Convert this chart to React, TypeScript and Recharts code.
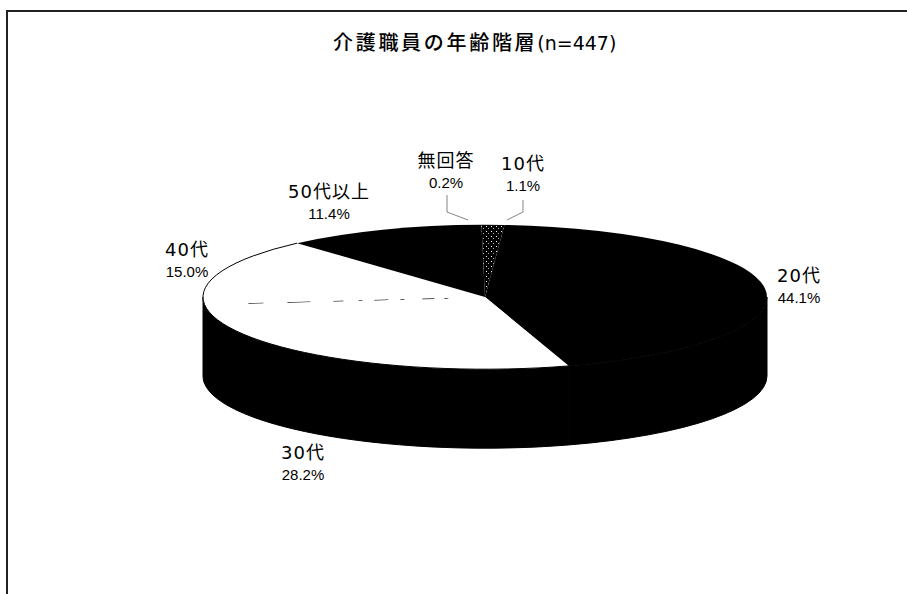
import { Pie, PieChart } from "recharts";

const categories = ["10代", "20代", "30代", "40代", "50代以上", "無回答"];
const shares = [1.1, 44.1, 28.2, 15.0, 11.4, 0.2];
const faceColors = ["url(#speckle)", "#000", "#fff", "#fff", "#000", "url(#speckle)"];

const rows = categories.map((name, i) => ({
  name,
  value: shares[i],
  fill: faceColors[i],
}));

const WIDTH = 907;
const HEIGHT = 594;
const LABEL_FONT = '"DejaVu Sans", "Noto Sans CJK JP", sans-serif';

// Squash factor of the top face and height of the side wall.
const TILT = 0.256;
const DEPTH = 79;

// Where each label block sits (baseline of the name), and the leader for the two thin slices.
const labelSpots: Record<string, { x: number; y: number }> = {
  "10代": { x: 523, y: 170 },
  "20代": { x: 799, y: 282 },
  "30代": { x: 303, y: 459 },
  "40代": { x: 187, y: 256 },
  "50代以上": { x: 329, y: 198 },
  無回答: { x: 446, y: 167 },
};
const leaders: Record<string, [number, number][]> = {
  "10代": [
    [523, 200],
    [523, 212],
    [507, 220],
  ],
  無回答: [
    [447, 195],
    [447, 212],
    [468, 220],
  ],
};

const rad = (deg: number) => (deg * Math.PI) / 180;

// Sector drawn on an ellipse, with its share of the front wall below it.
function TiltedSector(props: any) {
  const { cx, cy, outerRadius: r, startAngle, endAngle, fill, name } = props;
  const point = (a: number): [number, number] => [
    cx + r * Math.cos(rad(a)),
    cy - r * TILT * Math.sin(rad(a)),
  ];
  const ry = r * TILT;
  const [x0, y0] = point(startAngle);
  const [x1, y1] = point(endAngle);
  const large = startAngle - endAngle > 180 ? 1 : 0;
  const face = `M${cx},${cy} L${x0},${y0} A${r},${ry} 0 ${large} 1 ${x1},${y1} Z`;

  // Only angles under the horizon (-180..0 going clockwise) show a wall.
  const wallFrom = Math.min(startAngle, 0);
  const wallTo = Math.max(endAngle, -180);
  let wall = null;
  if (wallFrom > wallTo) {
    const [ax, ay] = point(wallFrom);
    const [bx, by] = point(wallTo);
    const big = wallFrom - wallTo > 180 ? 1 : 0;
    wall = (
      <path
        d={`M${ax},${ay} A${r},${ry} 0 ${big} 1 ${bx},${by} L${bx},${by + DEPTH} A${r},${ry} 0 ${big} 0 ${ax},${ay + DEPTH} Z`}
        fill="#000"
        stroke="#000"
        strokeWidth={1}
      />
    );
  }

  const light = fill === "#fff";
  return (
    <g>
      {wall}
      <path d={face} fill={fill} stroke="none" />
      {light && (
        <path
          d={`M${x0},${y0} A${r},${ry} 0 ${large} 1 ${x1},${y1}`}
          fill="none"
          stroke="#000"
          strokeWidth={1}
        />
      )}
      {name === "30代" && (
        <line
          x1={x1}
          y1={y1}
          x2={cx}
          y2={cy}
          stroke="#000"
          strokeWidth={1.2}
          strokeDasharray="0 44 15 24 23 23 10 15 4 12 14 12 4 18 12 10 4 40"
        />
      )}
    </g>
  );
}

function SliceLabel(props: any) {
  const { name, value } = props;
  const spot = labelSpots[name];
  if (!spot) return null;
  const leader = leaders[name];
  return (
    <g>
      {leader && (
        <polyline
          points={leader.map((p) => p.join(",")).join(" ")}
          fill="none"
          stroke="#666"
          strokeWidth={0.8}
        />
      )}
      <text
        x={spot.x}
        y={spot.y}
        textAnchor="middle"
        fontFamily={LABEL_FONT}
        fontSize={18}
        letterSpacing={1}
        fill="#000"
      >
        {name}
      </text>
      <text
        x={spot.x}
        y={spot.y + 21}
        textAnchor="middle"
        fontFamily='"Liberation Sans", sans-serif'
        fontSize={15}
        fill="#000"
      >
        {value.toFixed(1)}%
      </text>
    </g>
  );
}

export default function App() {
  return (
    <div
      style={{
        position: "absolute",
        left: 0,
        top: 0,
        width: WIDTH,
        height: HEIGHT,
        background: "#fff",
        overflow: "hidden",
      }}
    >
      {/* frame: only the top and left rules are visible */}
      <div style={{ position: "absolute", left: 6, top: 10, right: 0, height: 2, background: "#222" }} />
      <div style={{ position: "absolute", left: 6, top: 10, bottom: 0, width: 2, background: "#222" }} />
      <div
        style={{
          position: "absolute",
          left: 333,
          top: 30,
          whiteSpace: "nowrap",
          fontFamily: LABEL_FONT,
          fontSize: 20,
          fontWeight: 500,
          lineHeight: "26px",
          color: "#000",
        }}
      >
        <span style={{ letterSpacing: 2.7 }}>介護職員の年齢階層</span>
        <span style={{ fontSize: 19, fontWeight: 400 }}>(n=447)</span>
      </div>
      <PieChart
        width={WIDTH}
        height={HEIGHT}
        margin={{ top: 0, right: 0, bottom: 0, left: 0 }}
        style={{ position: "absolute", left: 0, top: 0 }}
      >
        <defs>
          <pattern id="speckle" width="5" height="5" patternUnits="userSpaceOnUse">
            <rect width="5" height="5" fill="#000" />
            <rect x="1" y="1" width="1" height="1" fill="#fff" />
            <rect x="3" y="3" width="1" height="1" fill="#aaa" />
          </pattern>
        </defs>
        <Pie
          data={rows}
          dataKey="value"
          nameKey="name"
          cx={485}
          cy={297}
          outerRadius={282}
          startAngle={90}
          endAngle={-270}
          stroke="none"
          shape={TiltedSector}
          label={SliceLabel}
          labelLine={false}
          isAnimationActive={false}
        />
      </PieChart>
    </div>
  );
}
